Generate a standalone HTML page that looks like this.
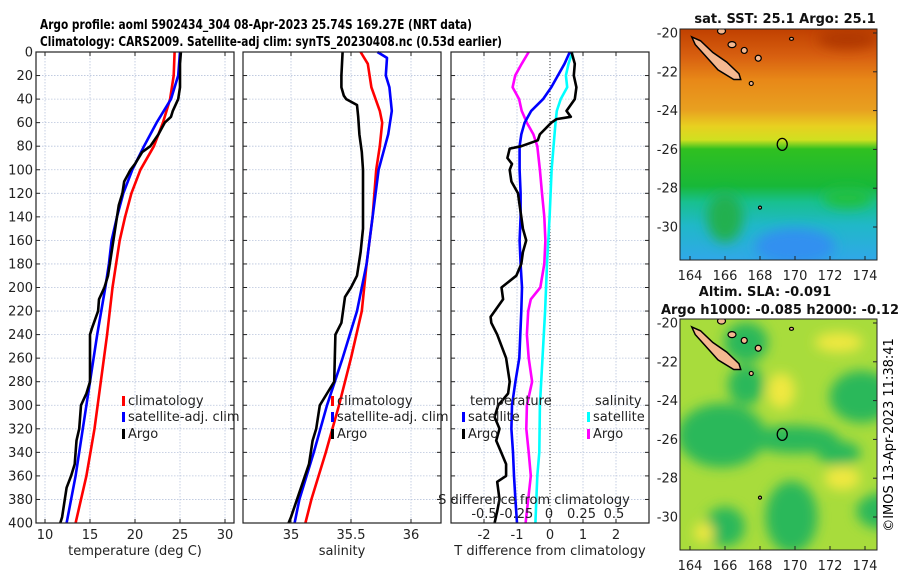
<!DOCTYPE html>
<html><head><meta charset="utf-8"><style>
html,body{margin:0;padding:0;background:#fff;}
svg{display:block;font-family:"DejaVu Sans","Liberation Sans",sans-serif;}
</style></head><body>
<svg id="fig" width="900" height="580" viewBox="0 0 900 580" xmlns="http://www.w3.org/2000/svg">
<defs>
<clipPath id="cm1"><rect x="680" y="29" width="197" height="231"/></clipPath>
<clipPath id="cm2"><rect x="680" y="319" width="197" height="231"/></clipPath>
<linearGradient id="sstg" x1="0" y1="0" x2="0" y2="1">
<stop offset="0" stop-color="#c04000"/><stop offset="0.12" stop-color="#d86010"/>
<stop offset="0.22" stop-color="#e88818"/><stop offset="0.35" stop-color="#e8a020"/>
<stop offset="0.42" stop-color="#e8d020"/><stop offset="0.48" stop-color="#d0e020"/>
<stop offset="0.52" stop-color="#30c020"/><stop offset="0.68" stop-color="#18b838"/>
<stop offset="0.75" stop-color="#18c090"/><stop offset="0.85" stop-color="#20b8c8"/>
<stop offset="1" stop-color="#30a8e8"/></linearGradient>
<filter id="blur" x="-50%" y="-50%" width="200%" height="200%"><feGaussianBlur stdDeviation="6"/></filter>
</defs>
<text x="256" y="29" font-size="13" font-weight="bold" text-anchor="middle" textLength="432" lengthAdjust="spacingAndGlyphs">Argo profile: aoml 5902434_304 08-Apr-2023 25.74S 169.27E (NRT data)</text>
<text x="271" y="46" font-size="13" font-weight="bold" text-anchor="middle" textLength="462" lengthAdjust="spacingAndGlyphs">Climatology: CARS2009. Satellite-adj clim: synTS_20230408.nc (0.53d earlier)</text>
<g id="plots"></g>
<g id="maps"></g>
<text transform="translate(893,435) rotate(-90)" font-size="13" text-anchor="middle">©IMOS 13-Apr-2023 11:38:41</text>
</svg>
<script>
// ---- data (depth in m) ----
const depthTicks = [0,20,40,60,80,100,120,140,160,180,200,220,240,260,280,300,320,340,360,380,400];
const tTicks = [10,15,20,25,30];
const sTicks = [35,35.5,36];
const dTTicks = [-2,-1,0,1,2];
const dSTicks = [-0.5,-0.25,0,0.25,0.5];
const dSTickLabels = ["-0.5","-0.25","0","0.25","0.5"];

const tClimDepth = [0,20,40,60,80,100,120,140,160,180,200,240,280,320,360,400];
const tClimVal   = [24.4,24.3,23.9,23.1,22.1,20.6,19.6,18.9,18.3,17.9,17.5,16.9,16.2,15.5,14.6,13.4];
const tSatDepth  = [0,20,40,60,80,100,120,140,160,180,200,240,280,320,360,400];
const tSatVal    = [25.0,24.8,24.0,22.4,21.0,19.7,18.7,18.0,17.4,17.1,16.7,15.8,15.0,14.2,13.4,12.4];
const tArgoDepth = [0,10,30,40,50,55,60,70,80,85,95,100,110,120,130,150,170,190,200,210,220,235,240,280,290,300,320,330,350,360,370,380,395,400];
const tArgoVal   = [25.1,25.0,25.0,24.8,24.2,24.0,23.3,22.6,21.7,20.8,20.0,19.5,18.8,18.6,18.2,17.8,17.4,17.0,16.6,16.0,15.9,15.2,15.0,15.0,14.6,14.0,13.8,13.5,13.3,12.9,12.4,12.2,11.9,11.7];

const sClimDepth = [0,10,30,50,60,80,100,140,180,220,260,300,340,380,400];
const sClimVal   = [35.58,35.64,35.67,35.74,35.76,35.74,35.71,35.68,35.63,35.59,35.5,35.4,35.29,35.17,35.12];
const sSatDepth  = [0,5,20,30,50,70,100,140,180,220,260,300,340,380,400];
const sSatVal    = [35.72,35.8,35.79,35.82,35.84,35.81,35.73,35.68,35.63,35.55,35.43,35.3,35.19,35.07,35.03];
const sArgoDepth = [0,20,30,37,40,45,55,70,85,100,120,150,170,190,200,208,230,240,280,290,300,320,330,350,365,380,395,400];
const sArgoVal   = [35.43,35.42,35.42,35.44,35.46,35.55,35.56,35.57,35.59,35.6,35.6,35.6,35.58,35.55,35.5,35.45,35.42,35.37,35.36,35.3,35.24,35.21,35.18,35.15,35.1,35.05,35.0,34.98];

const dTArgoDepth = [0,10,20,30,40,50,55,57,60,70,75,80,82,90,95,100,110,120,130,140,150,160,170,180,190,200,210,225,230,240,260,280,290,300,310,320,330,340,350,360,365,380,390,400];
const dTArgoVal   = [0.65,0.75,0.72,0.8,0.75,0.5,0.63,0.2,0.04,-0.31,-0.37,-0.87,-1.22,-1.29,-1.15,-1.22,-1.17,-0.97,-0.92,-0.87,-0.82,-0.72,-0.82,-0.87,-1.02,-1.47,-1.42,-1.8,-1.78,-1.6,-1.33,-1.22,-1.27,-1.57,-1.68,-1.53,-1.63,-1.48,-1.33,-1.33,-1.6,-1.53,-1.6,-1.68];
const dTSatDepth  = [0,10,20,30,40,50,60,70,80,100,120,140,160,180,200,220,240,260,280,300,320,340,360,380,400];
const dTSatVal    = [0.6,0.44,0.24,0.04,-0.21,-0.57,-0.77,-0.87,-0.92,-0.92,-0.89,-0.89,-0.92,-0.89,-0.85,-0.87,-0.9,-0.93,-1.05,-1.15,-1.17,-1.12,-1.09,-1.05,-1.0];
const dSArgoDepth = [0,10,20,30,40,50,60,70,80,100,120,140,160,180,200,210,220,240,260,280,300,320,340,360,380,400];
const dSArgoVal   = [-0.156,-0.21,-0.26,-0.28,-0.23,-0.21,-0.17,-0.12,-0.09,-0.07,-0.054,-0.036,-0.028,-0.036,-0.067,-0.14,-0.16,-0.17,-0.156,-0.13,-0.17,-0.175,-0.156,-0.14,-0.16,-0.18];
const dSSatDepth  = [0,10,20,30,40,50,60,100,140,180,220,260,300,340,360,400];
const dSSatVal    = [0.18,0.15,0.13,0.14,0.09,0.06,0.05,0.02,0.005,-0.015,-0.03,-0.05,-0.07,-0.075,-0.09,-0.105];

const lonTicks = [164,166,168,170,172,174];
const latTicks = [-20,-22,-24,-26,-28,-30];

const NS = "http://www.w3.org/2000/svg";
function mk(tag, attrs, parent, text){ const e=document.createElementNS(NS,tag); for(const k in attrs) e.setAttribute(k,attrs[k]); if(text!==undefined) e.textContent=text; parent.appendChild(e); return e; }

const Y0=52, Y1=523;
const yD = d => Y0 + d*(Y1-Y0)/400;
const plots = document.getElementById('plots');

function axisFn(x0,x1,v0,v1){ return v => x0 + (v-v0)*(x1-x0)/(v1-v0); }
const panels = [
 {x0:36,x1:234,fx:axisFn(36,234,9,31),ticks:tTicks,label:"temperature (deg C)",name:"temperature-panel",ylabels:true},
 {x0:243,x1:441,fx:axisFn(243,441,34.6,36.25),ticks:sTicks,label:"salinity",name:"salinity-panel"},
 {x0:451,x1:649,fx:axisFn(451,649,-3,3),ticks:dTTicks,label:"T difference from climatology",name:"difference-panel"}
];
panels.forEach((p,i)=>{
  const g = mk('g',{},plots);
  
  
  depthTicks.forEach(d=>{
    const l=mk('line',{x1:p.x0,x2:p.x1,y1:yD(d),y2:yD(d),stroke:'#b8c4dc','stroke-width':0.8,'stroke-dasharray':'1.5,1.5'},g);
     
    mk('line',{x1:p.x0,x2:p.x0+4,y1:yD(d),y2:yD(d),stroke:'#222'},g);
    mk('line',{x1:p.x1-4,x2:p.x1,y1:yD(d),y2:yD(d),stroke:'#222'},g);
    if(p.ylabels){ const t=mk('text',{x:33,y:yD(d)+4.5,'font-size':13,'text-anchor':'end',fill:'#222'},g,String(d));
        }
  });
  p.ticks.forEach(v=>{
    const x=p.fx(v);
    mk('line',{x1:x,x2:x,y1:Y0,y2:Y1,stroke:'#b8c4dc','stroke-width':0.8,'stroke-dasharray':'1.5,1.5'},g);
    mk('line',{x1:x,x2:x,y1:Y1,y2:Y1-4,stroke:'#222'},g);
    mk('line',{x1:x,x2:x,y1:Y0,y2:Y0+4,stroke:'#222'},g);
    const t=mk('text',{x:x,y:539,'font-size':13,'text-anchor':'middle',fill:'#222'},g,String(v));
     
  });
  const at=mk('text',{x:(p.x0+p.x1)/2,y:555,'font-size':13,'text-anchor':'middle',fill:'#222'},g,p.label);
   
  p.g=g;
});
mk('line',{x1:panels[2].fx(0),x2:panels[2].fx(0),y1:Y0,y2:Y1,stroke:'#333','stroke-width':1,'stroke-dasharray':'1,2'},panels[2].g);
const fS = axisFn(549,679,0,1);

function line(g,depths,vals,fx,color,name){
  const pts = depths.map((d,i)=>fx(vals[i]).toFixed(1)+','+yD(d).toFixed(1)).join(' ');
  const pl=mk('polyline',{points:pts,fill:'none',stroke:color,'stroke-width':2.6,'stroke-linejoin':'round'},g);
  
  
}
line(panels[0].g,tClimDepth,tClimVal,panels[0].fx,'#ff0000','temp-climatology-line');
line(panels[0].g,tSatDepth,tSatVal,panels[0].fx,'#0000ff','temp-satellite-line');
line(panels[0].g,tArgoDepth,tArgoVal,panels[0].fx,'#000000','temp-argo-line');
line(panels[1].g,sClimDepth,sClimVal,panels[1].fx,'#ff0000','sal-climatology-line');
line(panels[1].g,sSatDepth,sSatVal,panels[1].fx,'#0000ff','sal-satellite-line');
line(panels[1].g,sArgoDepth,sArgoVal,panels[1].fx,'#000000','sal-argo-line');
line(panels[2].g,dSSatDepth,dSSatVal,fS,'#00ffff','sdiff-satellite-line');
line(panels[2].g,dSArgoDepth,dSArgoVal,fS,'#ff00ff','sdiff-argo-line');
line(panels[2].g,dTSatDepth,dTSatVal,panels[2].fx,'#0000ff','tdiff-satellite-line');
line(panels[2].g,dTArgoDepth,dTArgoVal,panels[2].fx,'#000000','tdiff-argo-line');
panels.forEach(p=>{ mk('rect',{x:p.x0,y:Y0,width:p.x1-p.x0,height:Y1-Y0,fill:'none',stroke:'#222','stroke-width':1.2},p.g); });

const sat=mk('text',{x:534,y:504,'font-size':13,'text-anchor':'middle',fill:'#222'},panels[2].g,"S difference from climatology");
 
dSTicks.forEach((v,i)=>{ const t=mk('text',{x:fS(v),y:518,'font-size':13,'text-anchor':'middle',fill:'#222'},panels[2].g,dSTickLabels[i]);
    });

function legend(g,x,y,color,label,name){
  const lg=mk('g',{},g);  
  mk('rect',{x:x,y:y-9,width:3,height:10,fill:color},lg);
  mk('text',{x:x+6,y:y,'font-size':13,fill:'#222'},lg,label);
}
legend(panels[0].g,122,405,'#ff0000','climatology','legend-climatology');
legend(panels[0].g,122,421,'#0000ff','satellite-adj. clim','legend-satellite');
legend(panels[0].g,122,438,'#000000','Argo','legend-argo');
legend(panels[1].g,331,405,'#ff0000','climatology','legend-climatology');
legend(panels[1].g,331,421,'#0000ff','satellite-adj. clim','legend-satellite');
legend(panels[1].g,331,438,'#000000','Argo','legend-argo');
const lt=mk('text',{x:470,y:405,'font-size':13,fill:'#222'},panels[2].g,'temperature');  
const ls=mk('text',{x:595,y:405,'font-size':13,fill:'#222'},panels[2].g,'salinity');  
legend(panels[2].g,462,421,'#0000ff','satellite','legend-temp-satellite');
legend(panels[2].g,462,438,'#000000','Argo','legend-temp-argo');
legend(panels[2].g,587,421,'#00ffff','satellite','legend-sal-satellite');
legend(panels[2].g,587,438,'#ff00ff','Argo','legend-sal-argo');

// ---- maps ----
const maps=document.getElementById('maps');
function mapPanel(top, lat20y, lat30y, clip, kind, titleLines, name){
  const g=mk('g',{},maps);  
  const fx=lon=>690+(lon-164)*17.5, fy=lat=>lat20y+(-20-lat)*(lat30y-lat20y)/10;
  const c=mk('g',{'clip-path':'url(#'+clip+')'},g);
  if(kind==='sst'){
    mk('rect',{x:680,y:top,width:197,height:231,fill:'url(#sstg)'},c);
    const b=mk('g',{filter:'url(#blur)'},c);
    mk('ellipse',{cx:fx(170),cy:fy(-31),rx:40,ry:18,fill:'#3090f0'},b);
    mk('ellipse',{cx:fx(166),cy:fy(-29.5),rx:18,ry:25,fill:'#20b050'},b);
    mk('ellipse',{cx:fx(173),cy:fy(-28.5),rx:25,ry:10,fill:'#20c040'},b);
    mk('ellipse',{cx:fx(173),cy:fy(-20.3),rx:30,ry:10,fill:'#b03800'},b);
  } else {
    mk('rect',{x:680,y:top,width:197,height:231,fill:'#a8dc3c'},c);
    const b=mk('g',{filter:'url(#blur)'},c);
    const blobs=[[165.8,-25.8,44,32],[170,-26,44,14],[167.2,-21,22,20],[167.2,-23.2,18,20],[173.8,-23.8,32,26],[169.8,-30,26,36],[166,-30.5,20,20],[172.5,-26.7,22,12],[175,-29.7,26,18]];
    blobs.forEach(bb=>mk('ellipse',{cx:fx(bb[0]),cy:fy(bb[1]),rx:bb[2],ry:bb[3],fill:'#2ab85a'},b));
    [[169.2,-23.5,14,18],[172.7,-28,18,12],[164.8,-30.8,10,10],[172.5,-21,24,10]].forEach(bb=>mk('ellipse',{cx:fx(bb[0]),cy:fy(bb[1]),rx:bb[2],ry:bb[3],fill:'#f0e840'},b));
  }
  const isl=[[164.1,-20.2],[164.6,-20.4],[165.3,-21],[166.1,-21.5],[166.8,-22.1],[166.9,-22.4],[166.5,-22.4],[165.6,-21.9],[164.9,-21.2],[164.3,-20.6]];
  const ip=mk('polygon',{points:isl.map(p=>fx(p[0])+','+fy(p[1])).join(' '),fill:'#f4b890',stroke:'#000','stroke-width':1.5},c);
   
  [[166.4,-20.6,4,3],[167.1,-20.9,3,3],[167.9,-21.3,3,3],[167.5,-22.6,2,2],[169.8,-20.3,2,1.5],[168,-29,1.5,1.5],[165.8,-19.9,4,3]].forEach(e=>mk('ellipse',{cx:fx(e[0]),cy:fy(e[1]),rx:e[2],ry:e[3],fill:'#f4b890',stroke:'#000','stroke-width':1.2},c));
  const fl=mk('ellipse',{cx:fx(169.27),cy:fy(-25.74),rx:5,ry:6,fill:'none',stroke:'#000','stroke-width':1.3},c);
   
  mk('rect',{x:680,y:top,width:197,height:231,fill:'none',stroke:'#222','stroke-width':1},g);
  lonTicks.forEach(l=>{ mk('line',{x1:fx(l),x2:fx(l),y1:top+231,y2:top+227,stroke:'#222'},g);
    const t=mk('text',{x:fx(l),y:top+251,'font-size':13,'text-anchor':'middle',fill:'#222'},g,String(l));
      });
  latTicks.forEach(l=>{ mk('line',{x1:877,x2:873,y1:fy(l),y2:fy(l),stroke:'#222'},g);
    const t=mk('text',{x:678,y:fy(l)+4.5,'font-size':13,'text-anchor':'end',fill:'#222'},g,String(l));
      });
  titleLines.forEach((tl,i)=>{ const t=mk('text',{x:tl[1],y:tl[2],'font-size':13,'font-weight':'bold','text-anchor':'middle',fill:'#111'},g,tl[0]);
      });
}
mapPanel(29,33,227,'cm1','sst',[["sat. SST: 25.1 Argo: 25.1",785,23]],'sst-map');
mapPanel(319,323,517,'cm2','sla',[["Altim. SLA: -0.091",765,296],["Argo h1000: -0.085 h2000: -0.12",780,314]],'sla-map');
</script>
</body></html>
